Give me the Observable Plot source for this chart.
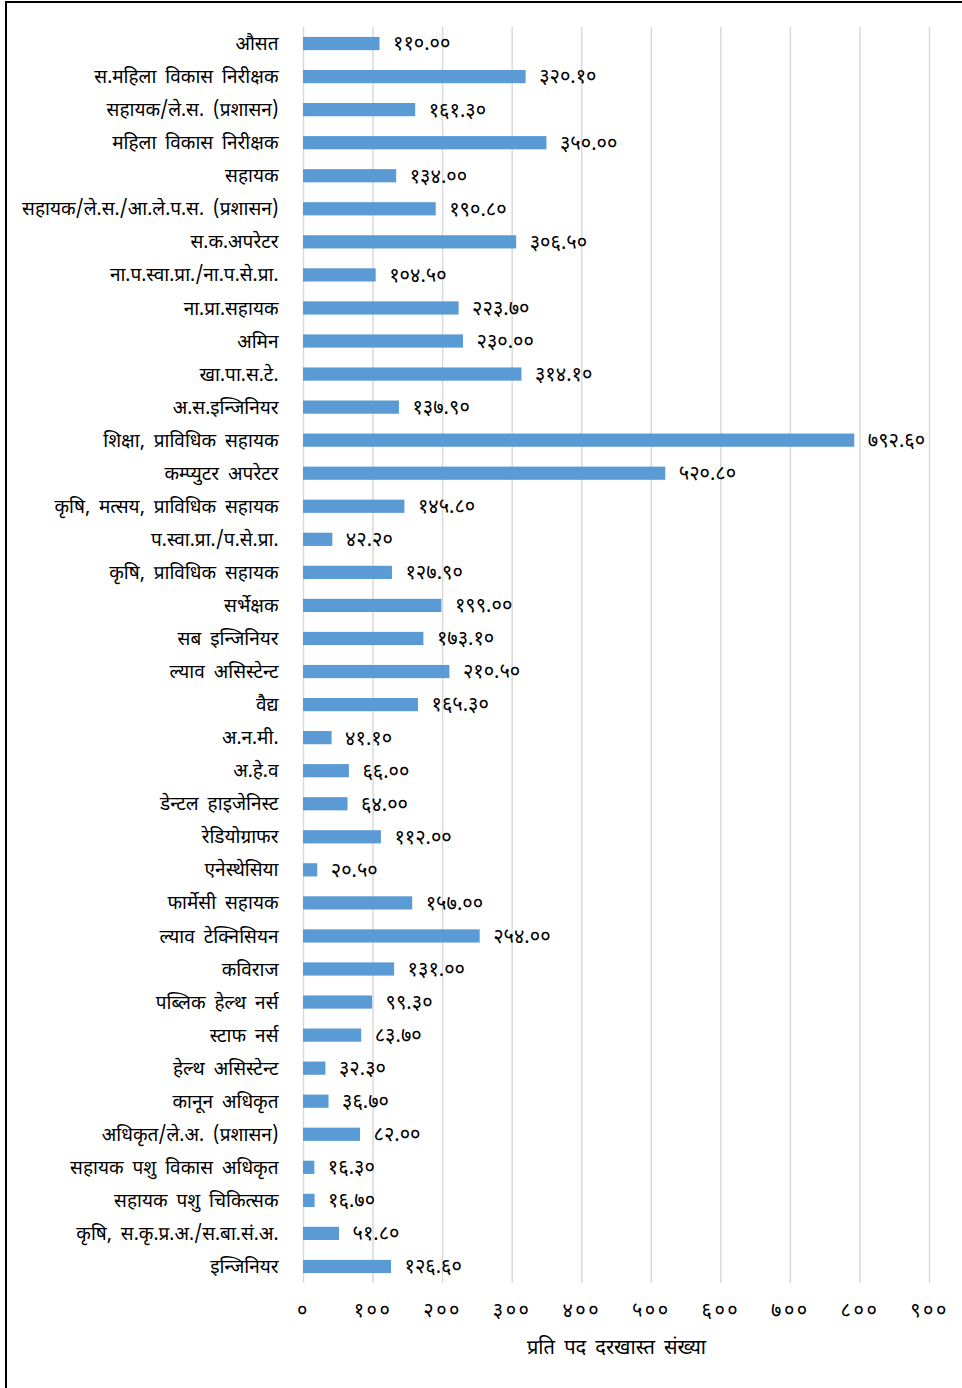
<!DOCTYPE html>
<html>
<head>
<meta charset="utf-8">
<script src="https://cdn.jsdelivr.net/npm/d3@7"></script>
<script src="https://cdn.jsdelivr.net/npm/@observablehq/plot@0.6"></script>
<style>
  html, body { margin: 0; padding: 0; background: #fff; }
  #wrap { position: relative; width: 962px; height: 1388px; overflow: hidden; }
  #frame { position: absolute; left: 5px; top: 1px; width: 1200px; height: 1600px; border: 2.5px solid #000; box-sizing: border-box; pointer-events: none; }
  svg text { word-spacing: 4px; }
  text[aria-label="values"], g[aria-label="values"] text { letter-spacing: 3px; }
  g[aria-label="x-axis tick label"] text { letter-spacing: 2.5px; }
</style>
</head>
<body>
<div id="wrap"><div id="frame"></div></div>
<script>
const categories = [
  "औसत",
  "स.महिला विकास निरीक्षक",
  "सहायक/ले.स. (प्रशासन)",
  "महिला विकास निरीक्षक",
  "सहायक",
  "सहायक/ले.स./आ.ले.प.स. (प्रशासन)",
  "स.क.अपरेटर",
  "ना.प.स्वा.प्रा./ना.प.से.प्रा.",
  "ना.प्रा.सहायक",
  "अमिन",
  "खा.पा.स.टे.",
  "अ.स.इन्जिनियर",
  "शिक्षा, प्राविधिक सहायक",
  "कम्प्युटर अपरेटर",
  "कृषि, मत्सय, प्राविधिक सहायक",
  "प.स्वा.प्रा./प.से.प्रा.",
  "कृषि, प्राविधिक सहायक",
  "सर्भेक्षक",
  "सब इन्जिनियर",
  "ल्याव असिस्टेन्ट",
  "वैद्य",
  "अ.न.मी.",
  "अ.हे.व",
  "डेन्टल हाइजेनिस्ट",
  "रेडियोग्राफर",
  "एनेस्थेसिया",
  "फार्मेसी सहायक",
  "ल्याव टेक्निसियन",
  "कविराज",
  "पब्लिक हेल्थ नर्स",
  "स्टाफ नर्स",
  "हेल्थ असिस्टेन्ट",
  "कानून अधिकृत",
  "अधिकृत/ले.अ. (प्रशासन)",
  "सहायक पशु विकास अधिकृत",
  "सहायक पशु चिकित्सक",
  "कृषि, स.कृ.प्र.अ./स.बा.सं.अ.",
  "इन्जिनियर"
];
const values = [
  110.00, 320.10, 161.30, 350.00, 134.00, 190.80, 306.50, 104.50, 223.70, 230.00,
  314.10, 137.90, 792.60, 520.80, 145.80, 42.20, 127.90, 199.00, 173.10, 210.50,
  165.30, 41.10, 66.00, 64.00, 112.00, 20.50, 157.00, 254.00, 131.00, 99.30,
  83.70, 32.30, 36.70, 82.00, 16.30, 16.70, 51.80, 126.60
];
const xTicks = [0, 100, 200, 300, 400, 500, 600, 700, 800, 900];
const xTitle = "प्रति पद दरखास्त संख्या";

const devDigits = "०१२३४५६७८९";
const toDev = s => String(s).replace(/[0-9]/g, d => devDigits[+d]);

const data = categories.map((c, i) => ({category: c, value: values[i]}));
const FONT = "'Noto Sans Devanagari', 'Noto Serif Devanagari', 'Lohit Devanagari', 'Noto Sans', sans-serif";

const chart = Plot.plot({
  width: 962,
  height: 1388,
  marginTop: 27,
  marginBottom: 105,
  marginLeft: 303,
  marginRight: 33,
  style: {fontFamily: FONT, fontSize: "16px", color: "#000", background: "transparent"},
  x: {domain: [0, 900], ticks: xTicks, tickFormat: d => toDev(d), label: null},
  y: {domain: categories, paddingInner: 0.6, paddingOuter: 0.3, round: false, label: null},
  marks: [
    Plot.gridX(xTicks, {stroke: "#d9d9d9", strokeOpacity: 1, strokeWidth: 1.5}),
    Plot.barX(data, {x: "value", y: "category", fill: "#5b9bd5"}),
    Plot.text(data, {x: "value", y: "category", text: d => toDev(d.value.toFixed(2)), textAnchor: "start", dx: 13, fontSize: 20, fill: "#000", ariaLabel: "values"}),
    Plot.axisY({tickSize: 0, tickPadding: 25, fontSize: 19, fill: "#000"}),
    Plot.axisX(xTicks, {tickSize: 0, tickPadding: 19, fontSize: 20, fill: "#000", tickFormat: d => toDev(d), label: null}),
    Plot.text([xTitle], {frameAnchor: "bottom", dy: 70, fontSize: 20, fill: "#000"})
  ]
});
document.getElementById("wrap").prepend(chart);
</script>
</body>
</html>
